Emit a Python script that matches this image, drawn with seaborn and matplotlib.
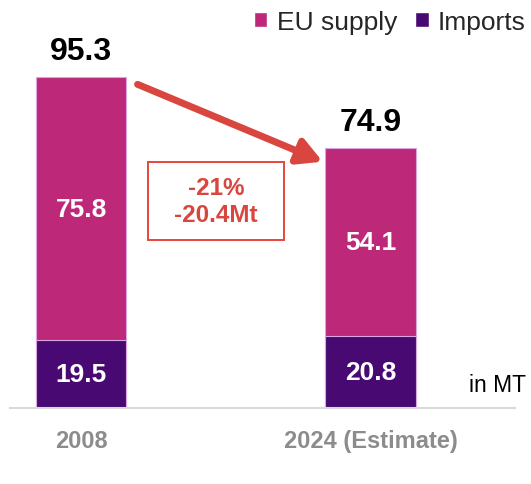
import matplotlib
matplotlib.use("Agg")
import matplotlib.pyplot as plt
from matplotlib.patches import Patch, Rectangle
import seaborn as sns
import pandas as pd

categories = ["2008", "2024 (Estimate)"]
eu_supply = [75.8, 54.1]
imports = [19.5, 20.8]
change_pct = "-21%"
change_mt = "-20.4Mt"

totals = [e + i for e, i in zip(eu_supply, imports)]
df = pd.DataFrame({"year": categories, "eu": eu_supply, "imp": imports, "total": totals})

sns.set_theme(style="white")
plt.rcParams["font.family"] = ["Liberation Sans", "DejaVu Sans"]

PINK = "#BD2878"
PURPLE = "#480A72"
RED = "#D9463F"

fig = plt.figure(figsize=(5.31, 4.85), dpi=100)
ax = fig.add_axes([10/531, 76/485, 505/531, 409/485])

sns.barplot(data=df, x="year", y="total", color=PINK, saturation=1, width=0.312,
            edgecolor="#D9A6E0", linewidth=0.8, ax=ax)
sns.barplot(data=df, x="year", y="imp", color=PURPLE, saturation=1, width=0.312,
            edgecolor="#D9A6E0", linewidth=0.8, ax=ax)

ax.set_xlim(-0.246, 1.50)
ax.set_ylim(0, 117.9)
ax.set_xlabel("")
ax.set_ylabel("")
ax.set_yticks([])
for s in ["top", "left", "right"]:
    ax.spines[s].set_visible(False)
ax.spines["bottom"].set_color("#D9D9D9")
ax.spines["bottom"].set_linewidth(1.5)
ax.tick_params(axis="x", length=0, pad=15, labelsize=17, labelcolor="#8C8C8C")
for t in ax.get_xticklabels():
    t.set_fontweight("bold")

for i in range(len(categories)):
    ax.text(i, imports[i] / 2, f"{imports[i]:.1f}", ha="center", va="center",
            color="white", fontsize=19, fontweight="bold")
    ax.text(i, imports[i] + eu_supply[i] / 2, f"{eu_supply[i]:.1f}", ha="center", va="center",
            color="white", fontsize=19, fontweight="bold")
    ax.text(i, totals[i] + 3.2, f"{totals[i]:.1f}", ha="center", va="bottom",
            color="black", fontsize=23, fontweight="bold")

# arrow
ax.annotate("", xy=(0.835, 71.0), xytext=(0.195, 93.3),
            arrowprops=dict(arrowstyle="-|>,head_length=1.2,head_width=0.65",
                            color=RED, lw=5, shrinkA=0, shrinkB=0))

# change box
fig.patches.append(Rectangle((148/531, 1 - 241/485), 136/531, 78/485, transform=fig.transFigure,
                             facecolor="white", edgecolor="#E8453C", lw=1.4))
fig.text(216/531, 1 - 202/485, f"{change_pct}\n{change_mt}", ha="center", va="center",
         color=RED, fontsize=17.5, fontweight="bold", linespacing=1.25)

fig.text(469/531, 1 - 386/485, "in MT", ha="left", va="center", fontsize=16.5, color="black")

handles = [Patch(facecolor=PINK, label="EU supply"), Patch(facecolor=PURPLE, label="Imports")]
fig.legend(handles=handles, loc="upper right", bbox_to_anchor=(1.0, 1 - 6/485), ncol=2, frameon=False,
           fontsize=19, handlelength=0.5, handleheight=0.5, handletextpad=0.35,
           columnspacing=0.7, borderaxespad=0.0, borderpad=0.2)

fig.savefig("out.png", dpi=100)
